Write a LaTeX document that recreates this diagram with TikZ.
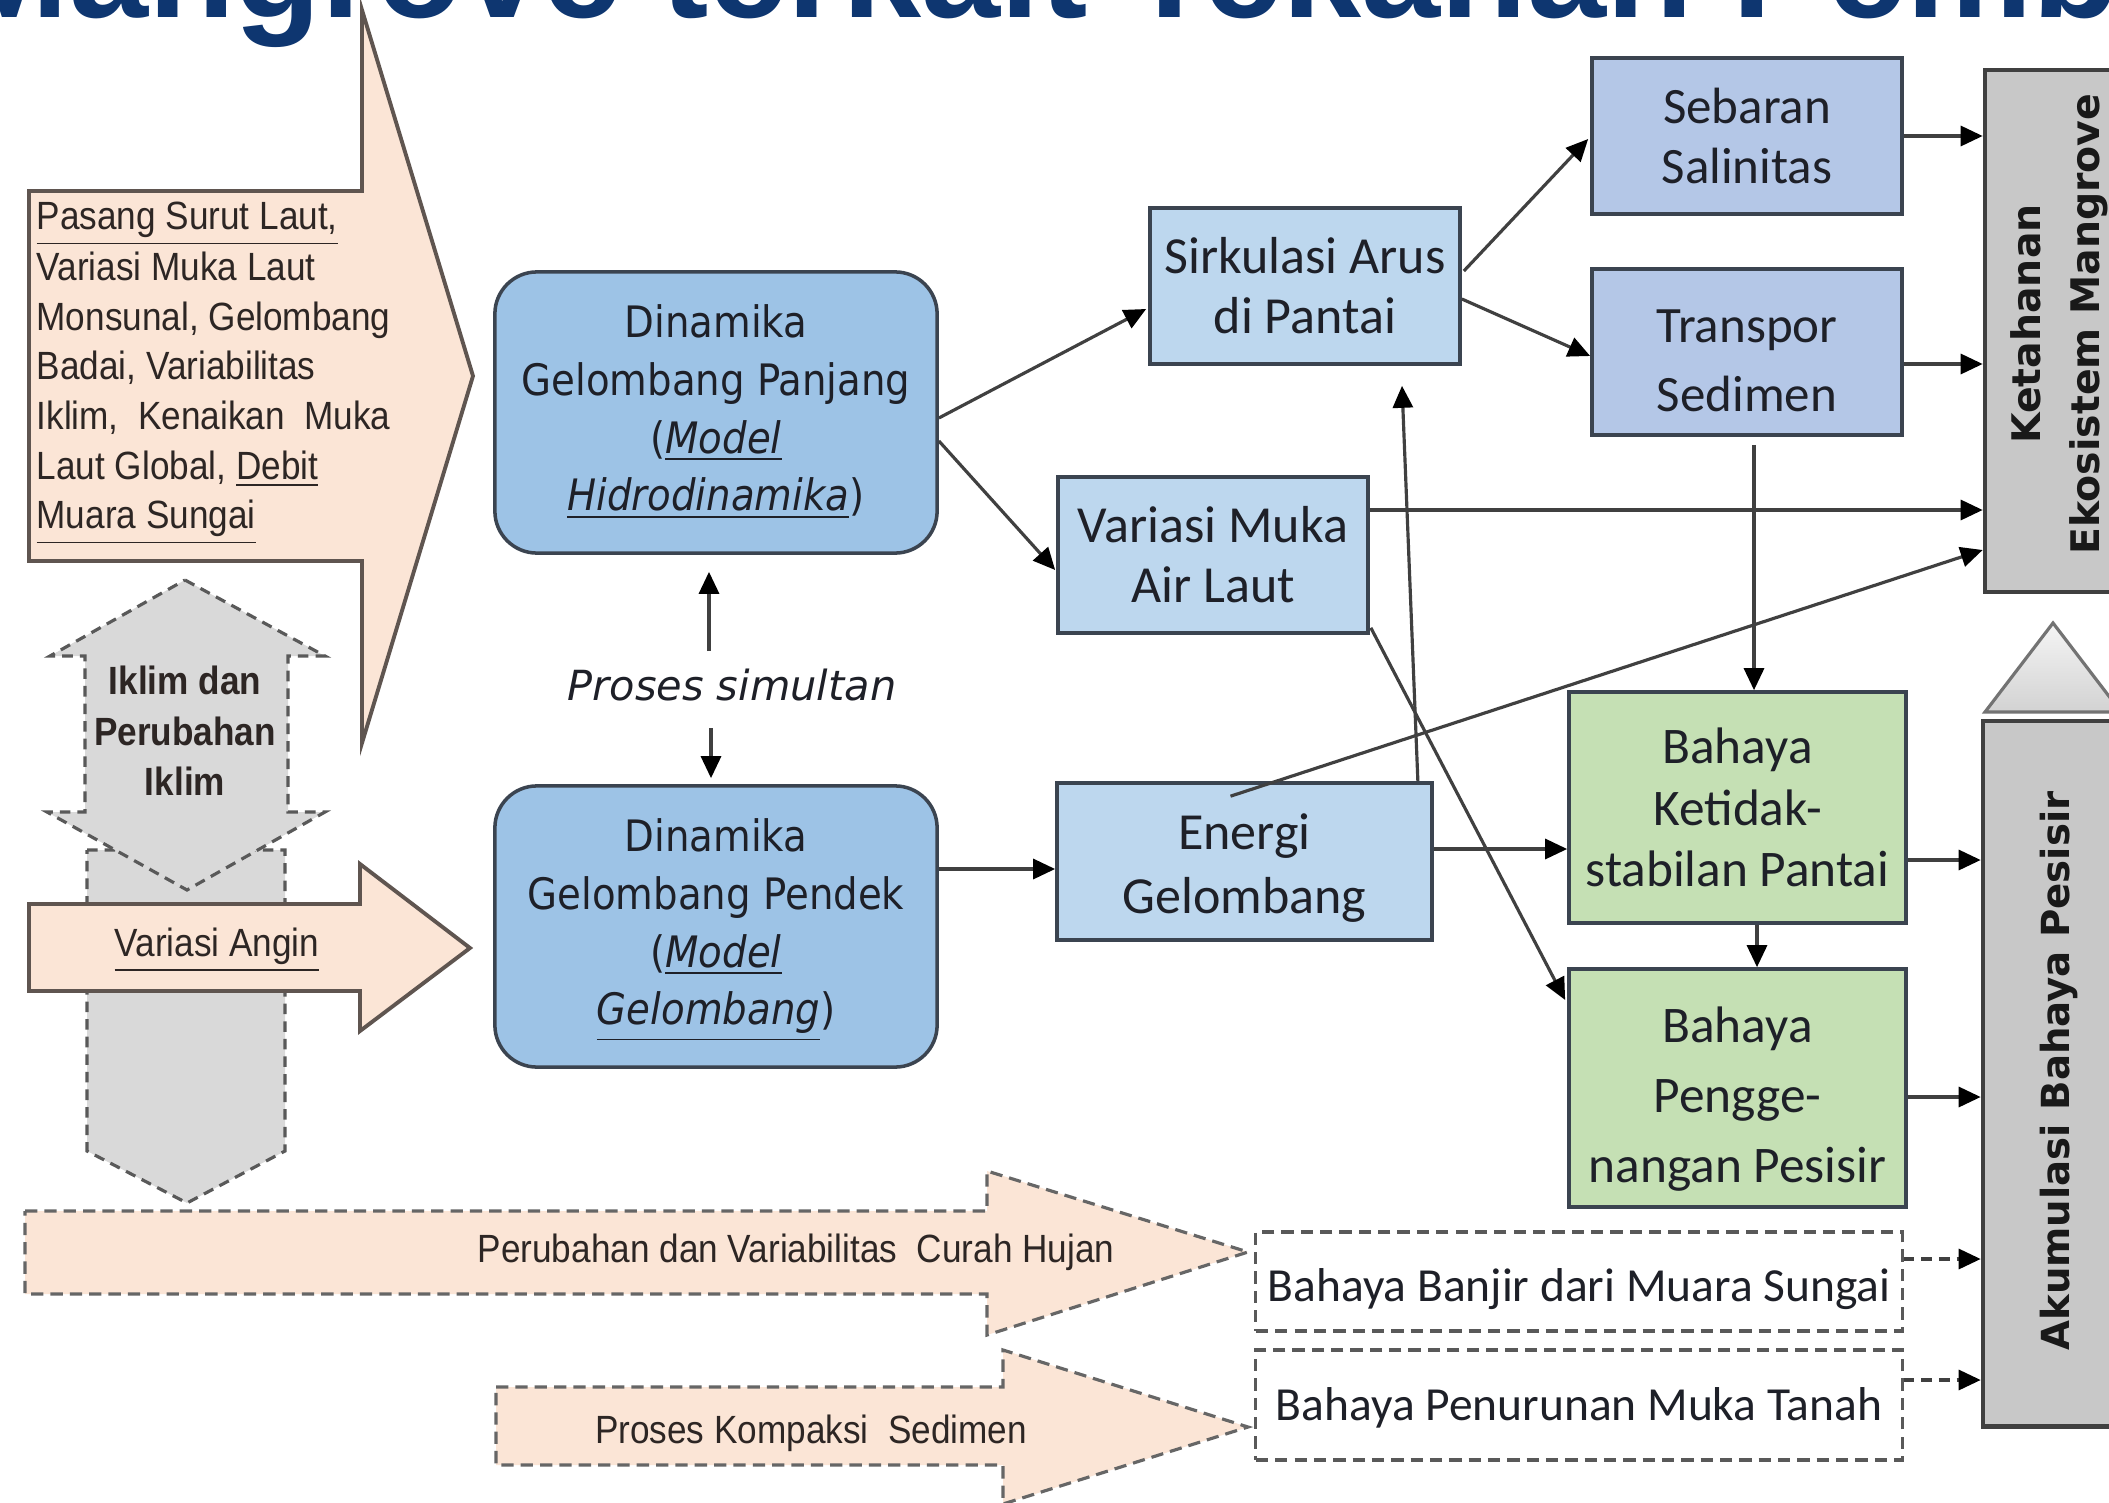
\documentclass[tikz,border=0pt]{standalone}
\usepackage{fontspec}
\setmainfont{Liberation Sans}
\newfontfamily\dvfont{DejaVu Sans}
\newfontfamily\cbfont{Carlito}
\usepackage{graphicx}
\usetikzlibrary{arrows.meta,calc}

\definecolor{peach}{RGB}{251,229,214}
\definecolor{peachline}{RGB}{95,85,80}
\definecolor{gshape}{RGB}{217,217,217}
\definecolor{blueA}{RGB}{157,195,230}
\definecolor{blueB}{RGB}{189,215,238}
\definecolor{blueC}{RGB}{180,199,231}
\definecolor{greenA}{RGB}{197,224,180}
\definecolor{grayA}{RGB}{200,200,200}
\definecolor{edgec}{RGB}{59,68,80}
\definecolor{connc}{RGB}{64,64,64}
\definecolor{titleblue}{RGB}{14,54,112}
\definecolor{txt}{RGB}{30,32,40}
\definecolor{txtL}{RGB}{45,38,36}

\newcommand\vst[2]{\scalebox{1}[#1]{\begin{tabular}{@{}c@{}}#2\end{tabular}}}
\newcommand\vstl[2]{\scalebox{1}[#1]{\begin{tabular}{@{}l@{}}#2\end{tabular}}}

\tikzset{
  box/.style={draw=edgec, line width=1pt, inner sep=0pt, align=center, text=txt},
  rbox/.style={box, rounded corners=0.42cm, fill=blueA, font=\dvfont\fontsize{11}{14.7}\selectfont},
  btext/.style={inner sep=0pt, align=center, text=txt},
  gbox/.style={draw=black!75, line width=1.3pt, fill=grayA, inner sep=0pt},
  dbox/.style={draw=black!65, line width=0.9pt, dash pattern=on 3.5pt off 2pt, fill=white, inner sep=0pt},
  dtext/.style={inner sep=0pt, text=txt, font=\cbfont\fontsize{13.5}{16}\selectfont},
  conn/.style={draw=connc, line width=0.9pt, -{Triangle[length=0.22cm,width=0.2cm,color=black]}},
  dconn/.style={conn, dash pattern=on 3pt off 2pt},
  pline/.style={draw=peachline, line width=1.1pt, fill=peach, line join=miter},
  dline/.style={draw=black!60, line width=0.9pt, dash pattern=on 3.5pt off 2pt, fill=peach},
  gline/.style={draw=black!65, line width=0.9pt, dash pattern=on 3pt off 2pt, fill=gshape},
  ltext/.style={inner sep=0pt, text=txtL, font=\fontsize{10}{12.6}\selectfont},
}

\begin{document}
\begin{tikzpicture}[x=0.01cm,y=-0.01cm]
\useasboundingbox (0,0) rectangle (2109,1503);
\clip (0,0) rectangle (2109,1503);
\fill[white] (0,0) rectangle (2109,1503);

% title (cut by the frame, as in the reference)
\node[anchor=base west, inner sep=0pt, text=titleblue, font=\bfseries\fontsize{40.4}{40.4}\selectfont] (title) at (-50,18) {Mangrove terkait Tekanan Pemb};

% big peach arrow
\draw[pline] (29,191) -- (362,191) -- (362,10) -- (473,376) -- (362,743) -- (362,561) -- (29,561) -- cycle;
\node[ltext, anchor=west] (pasang) at (36,370) {\vstl{1.12}{\underline{Pasang Surut Laut,}\\ Variasi Muka Laut\\ Monsunal, Gelombang\\ Badai, Variabilitas\\ Iklim,\ \ Kenaikan\ \ Muka\\ Laut Global, \underline{Debit}\\ \underline{Muara Sungai}}};

% grey dashed climate arrows
\draw[gline] (87,850) -- (285,850) -- (285,1151) -- (187,1203) -- (87,1151) -- cycle;
\draw[gline] (185,580) -- (325,656) -- (288,656) -- (288,812) -- (325,812) -- (187,890) -- (47,812) -- (85,812) -- (85,656) -- (50,656) -- cycle;
\node[ltext, font=\bfseries\fontsize{10}{12.7}\selectfont] (iklim) at (185,735) {\vst{1.12}{Iklim dan\\Perubahan\\Iklim}};

% wind arrow
\draw[pline] (29,904) -- (360,904) -- (360,864) -- (470,948) -- (360,1031) -- (360,991) -- (29,991) -- cycle;
\node[ltext] (angin) at (217,950) {\scalebox{1}[1.12]{\underline{Variasi Angin}}};

% dashed bottom arrows
\draw[dline] (25,1211) -- (987,1211) -- (987,1171) -- (1248,1252) -- (987,1335) -- (987,1294) -- (25,1294) -- cycle;
\node[ltext] (hujan) at (796,1252) {\scalebox{1}[1.12]{Perubahan dan Variabilitas\ \ Curah Hujan}};
\draw[dline] (496,1387) -- (1003,1387) -- (1003,1350) -- (1248,1427) -- (1003,1504) -- (1003,1465) -- (496,1465) -- cycle;
\node[ltext] (kompaksi) at (811,1433) {\scalebox{1}[1.12]{Proses Kompaksi\ \ Sedimen}};

% model boxes
\node[rbox, minimum width=4.42cm, minimum height=2.81cm] (gp) at (716,412.5)
  {\vst{1.12}{Dinamika\\Gelombang Panjang\\(\textit{\underline{Model}}\\\textit{\underline{Hidrodinamika}})}};
\node[rbox, minimum width=4.42cm, minimum height=2.81cm] (gpd) at (716,926.5)
  {\vst{1.12}{Dinamika\\Gelombang Pendek\\(\textit{\underline{Model}}\\\textit{\underline{Gelombang}})}};
\node[inner sep=0pt, text=txt, font=\dvfont\itshape\fontsize{11.8}{14}\selectfont] (ps) at (732,685) {Proses simultan};

% process boxes
\node[box, fill=blueB, minimum width=3.1cm, minimum height=1.56cm, font=\cbfont\fontsize{14.8}{17}\selectfont] (sirk) at (1305,286) {Sirkulasi Arus\\di Pantai};
\node[box, fill=blueB, minimum width=3.1cm, minimum height=1.56cm, font=\cbfont\fontsize{14.8}{17}\selectfont] (vml) at (1213,555) {Variasi Muka\\Air Laut};
\node[box, fill=blueB, minimum width=3.75cm, minimum height=1.57cm] (energi) at (1244.5,861.5) {};
\node[btext, font=\cbfont\fontsize{14.8}{18.2}\selectfont] (energiT) at ($(energi.center)+(0,7)$) {Energi\\Gelombang};
\node[box, fill=blueC, minimum width=3.1cm, minimum height=1.56cm, font=\cbfont\fontsize{14.5}{16.8}\selectfont] (seb) at (1747,136) {Sebaran\\Salinitas};
\node[box, fill=blueC, minimum width=3.1cm, minimum height=1.66cm] (trans) at (1747,352) {};
\node[btext, font=\cbfont\fontsize{14.5}{19.6}\selectfont] (transT) at ($(trans.center)+(0,9)$) {Transpor\\Sedimen};
\node[box, fill=greenA, minimum width=3.37cm, minimum height=2.31cm, font=\cbfont\fontsize{14.6}{17.5}\selectfont] (ketid) at (1737.5,807.5) {Bahaya\\Ketidak-\\stabilan Pantai};
\node[box, fill=greenA, minimum width=3.37cm, minimum height=2.38cm] (pengg) at (1737.5,1088) {};
\node[btext, font=\cbfont\fontsize{14.6}{19.9}\selectfont] (penggT) at ($(pengg.center)+(0,11)$) {Bahaya\\Pengge-\\nangan Pesisir};
\node[dbox, minimum width=6.46cm, minimum height=0.99cm] (banjir) at (1579,1281.5) {};
\node[dtext] (banjirT) at ($(banjir.center)+(0,8)$) {Bahaya Banjir dari Muara Sungai};
\node[dbox, minimum width=6.46cm, minimum height=1.10cm] (penur) at (1579,1405) {};
\node[dtext] (penurT) at ($(penur.center)+(0,3)$) {Bahaya Penurunan Muka Tanah};

% right column
\node[gbox, minimum width=1.65cm, minimum height=5.22cm] (ketah) at (2067.5,331) {};
\node[rotate=90, inner sep=0pt, align=center, text=black!90, font=\dvfont\bfseries\fontsize{11.2}{16.8}\selectfont] (ketahT) at (2059,324) {Ketahanan\\Ekosistem Mangrove};
\path[draw=black!55, line width=0.9pt, top color=gray!8, bottom color=gray!35] (1985,712) -- (2053,623) -- (2121,712) -- cycle;
\node[gbox, minimum width=1.65cm, minimum height=7.05cm] (akum) at (2065.5,1073.5) {};
\node[rotate=90, inner sep=0pt, text=black!90, font=\dvfont\bfseries\fontsize{11}{13}\selectfont] (akumT) at (2059,1071) {Akumulasi Bahaya Pesisir};

% connectors
\draw[conn] ($(gp.east)+(0,5.5)$) -- ($(sirk.west)+(-2,23)$);
\draw[conn] ($(gp.east)+(0,28.5)$) -- ($(vml.west)+(-1,15)$);
\draw[conn] ($(gpd.east)+(0,-57.5)$) -- ($(energi.west)+(0,7.5)$);
\coordinate (psU) at (709,651);
\coordinate (psD) at (711,728);
\draw[conn] (psU) -- ($(gp.south)+(-7,17)$);
\draw[conn] (psD) -- ($(gpd.north)+(-5,-6)$);
\draw[conn] ($(sirk.east)+(2,-15)$) -- ($(seb.west)+(-2,3)$);
\draw[conn] ($(sirk.east)+(0,13)$) -- ($(trans.west)+(0,4)$);
\draw[conn] (seb.east) -- (seb.east -| ketah.west);
\draw[conn] ($(trans.east)+(0,12)$) coordinate (t1) -- (t1 -| ketah.west);
\draw[conn] ($(vml.east)+(0,-45)$) coordinate (v1) -- (v1 -| ketah.west);
\draw[conn] ($(energi.north)+(-14,15)$) -- ($(ketah.west)+(0,219)$);
\draw[conn] ($(energi.north east)+(-16,0)$) -- ($(sirk.south)+(97,20)$);
\draw[conn] ($(trans.south)+(7,8)$) -- ($(ketid.north)+(16.5,0)$);
\draw[conn] ($(vml.south east)+(1,-7)$) -- ($(pengg.west)+(-2,-88)$);
\draw[conn] ($(energi.east)+(0,-12.5)$) -- ($(ketid.west)+(0,41.5)$);
\draw[conn] ($(ketid.south)+(19.5,0)$) -- ($(pengg.north)+(19.5,0)$);
\draw[conn] ($(ketid.east)+(0,52.5)$) coordinate (k1) -- (k1 -| akum.west);
\draw[conn] ($(pengg.east)+(0,9)$) coordinate (k2) -- (k2 -| akum.west);
\draw[dconn] ($(banjir.east)+(0,-22.5)$) coordinate (k3) -- (k3 -| akum.west);
\draw[dconn] ($(penur.east)+(0,-25)$) coordinate (k4) -- (k4 -| akum.west);
\end{tikzpicture}
\end{document}
